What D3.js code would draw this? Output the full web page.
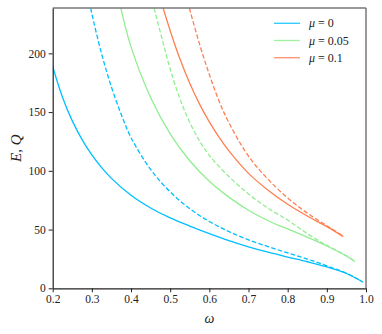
<!DOCTYPE html>
<html><head><meta charset="utf-8">
<script src="https://cdn.jsdelivr.net/npm/d3@7"></script>
<style>body{margin:0;background:#fff}svg{display:block}text{font-family:"Liberation Serif","DejaVu Serif",serif}</style>
</head><body><svg id="c" width="382" height="334"></svg>
<script>
const xTicks=[0.2,0.3,0.4,0.5,0.6,0.7,0.8,0.9,1.0];
const yTicks=[0,50,100,150,200];
const muLabels=["μ = 0","μ = 0.05","μ = 0.1"];
const colors=["#00bfff","#90ee90","#ff7f50"];
// E (solid) and Q (dashed) for each μ: [ω, value]
const E0=[[0.2,188.6],[0.225,162.7],[0.25,142.5],[0.275,126.6],[0.30,113.5],[0.325,102.7],[0.35,93.6],[0.40,79.2],[0.45,68.4],[0.50,59.9],[0.55,53.0],[0.60,46.6],[0.65,40.6],[0.70,35.3],[0.75,30.7],[0.80,26.6],[0.85,22.6],[0.90,18.2],[0.95,12.6],[0.993,5.1]];
const Q0=[[0.297,238.5],[0.30,233.6],[0.325,199.4],[0.35,171.3],[0.375,148],[0.40,128.3],[0.45,101.2],[0.50,82.1],[0.55,67.8],[0.60,56.9],[0.65,48.3],[0.70,41.3],[0.75,35.5],[0.80,30.1],[0.85,24.9],[0.90,19.1],[0.95,12.9],[0.99,5.8]];
const E1=[[0.374,238.5],[0.40,205.5],[0.45,162.5],[0.50,131.5],[0.55,108.6],[0.60,91.2],[0.65,77.6],[0.70,66.4],[0.75,57.5],[0.80,50.5],[0.85,43.5],[0.90,36.0],[0.95,27.5],[0.972,22.6]];
const Q1=[[0.459,238.5],[0.48,211.4],[0.50,186.7],[0.525,161.2],[0.55,141.2],[0.575,125.5],[0.60,113.1],[0.65,95.1],[0.70,80.3],[0.75,68.1],[0.80,58.1],[0.85,46.5],[0.90,36.5],[0.95,27.7],[0.972,22.9]];
const E2=[[0.482,238.5],[0.50,219.3],[0.525,195.1],[0.55,174.5],[0.575,156.8],[0.60,141.6],[0.625,128.4],[0.65,116.9],[0.70,97.8],[0.75,83.5],[0.80,71.5],[0.85,61.5],[0.90,52.5],[0.942,44.0]];
const Q2=[[0.549,238.5],[0.575,207.8],[0.60,182.0],[0.625,159.2],[0.65,140.9],[0.70,112.5],[0.75,92.7],[0.80,76.9],[0.85,64.0],[0.90,53.3],[0.942,44.3]];
const series=[[E0,Q0],[E1,Q1],[E2,Q2]];

const svg=d3.select("#c");
const L=52.7,R=366,T=8,B=288.3;
const x=d3.scaleLinear().domain([0.2,1.0]).range([L,R]);
const y=d3.scaleLinear().domain([0,238.6]).range([B,T]);
svg.append("clipPath").attr("id","cp").append("rect").attr("x",L).attr("y",T).attr("width",R-L).attr("height",B-T);
const line=d3.line().x(d=>x(d[0])).y(d=>y(d[1])).curve(d3.curveCatmullRom.alpha(0.5));
const g=svg.append("g").attr("clip-path","url(#cp)");
series.forEach((s,i)=>{
  g.append("path").attr("d",line(s[1])).attr("fill","none").attr("stroke",colors[i]).attr("stroke-width",1.3).attr("stroke-dasharray","4.6,2.2");
  g.append("path").attr("d",line(s[0])).attr("fill","none").attr("stroke",colors[i]).attr("stroke-width",1.3);
});
// frame
svg.append("line").attr("x1",L).attr("x2",R).attr("y1",T).attr("y2",T).attr("stroke","#777").attr("stroke-width",1.5);
svg.append("line").attr("x1",R).attr("x2",R).attr("y1",T).attr("y2",B).attr("stroke","#777").attr("stroke-width",1.5);
const xa=svg.append("g").attr("transform",`translate(0,${B})`).call(d3.axisBottom(x).tickValues(xTicks).tickFormat(d3.format(".1f")).tickSizeInner(4).tickSizeOuter(0).tickPadding(3));
const ya=svg.append("g").attr("transform",`translate(${L},0)`).call(d3.axisLeft(y).tickValues(yTicks).tickSizeInner(4).tickSizeOuter(0).tickPadding(3));
[xa,ya].forEach(a=>{a.select(".domain").attr("stroke","#222").attr("stroke-width",1.2);a.selectAll(".tick line").attr("stroke","#222");a.selectAll("text").attr("font-family","Liberation Serif, serif").attr("font-size",11.5).attr("fill","#222");});
svg.append("text").attr("x",(L+R)/2).attr("y",323).attr("text-anchor","middle").attr("font-size",14).attr("font-style","italic").attr("fill","#222").text("ω");
svg.append("text").attr("transform",`translate(21,${(T+B)/2}) rotate(-90)`).attr("text-anchor","middle").attr("font-size",15).attr("font-style","italic").attr("fill","#222").text("E, Q");
// legend
muLabels.forEach((t,i)=>{
  const yy=23.3+i*17.2;
  svg.append("line").attr("x1",274).attr("x2",300).attr("y1",yy).attr("y2",yy).attr("stroke",colors[i]).attr("stroke-width",1.3).attr("stroke-opacity",0.85);
  const tx=svg.append("text").attr("x",309).attr("y",yy+4).attr("font-size",12).attr("fill","#222");
  tx.append("tspan").attr("font-style","italic").text("μ");
  tx.append("tspan").text(t.slice(1));
});
</script></body></html>
